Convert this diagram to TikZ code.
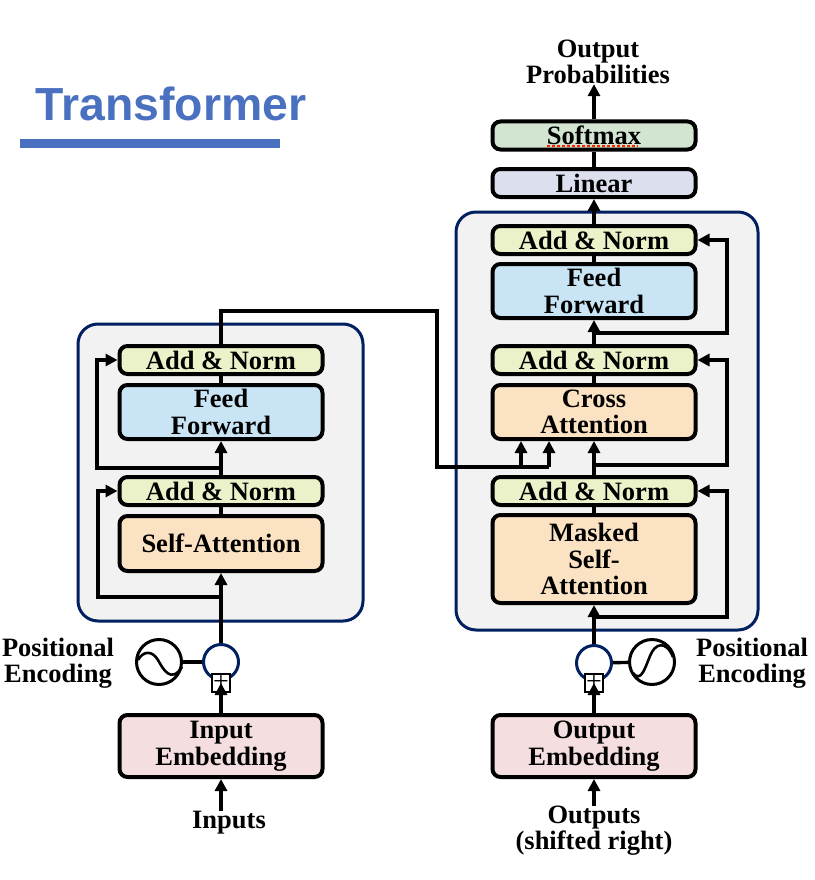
\documentclass[tikz,border=0pt]{standalone}
\usepackage{fontspec}
\setmainfont{Liberation Serif}
\newfontfamily\headfont{Liberation Sans}
\usetikzlibrary{arrows.meta,shapes}
\definecolor{navy}{HTML}{002060}
\definecolor{headblue}{HTML}{4A70C0}
\definecolor{panelgray}{HTML}{F2F2F2}
\definecolor{normgreen}{HTML}{EBF1C8}
\definecolor{ffblue}{HTML}{C9E5F5}
\definecolor{attnorange}{HTML}{FBE2C3}
\definecolor{embedpink}{HTML}{F5DEDF}
\definecolor{softgreen}{HTML}{D2E5D1}
\definecolor{linearblue}{HTML}{DCDFEE}
\tikzstyle{panel}=[draw=navy,line width=3pt,fill=panelgray,rounded corners=20pt]
\tikzstyle{block}=[draw=black,line width=4pt,rounded corners=8pt,minimum width=203pt,inner sep=0pt,align=center,font=\fontsize{26.5}{26.5}\selectfont\bfseries]
\tikzstyle{lbl}=[align=center,inner sep=0pt,font=\fontsize{26.5}{26}\selectfont\bfseries]
\tikzstyle{adder}=[circle,draw=navy,line width=3pt,fill=white,minimum size=35pt,inner sep=0pt]
\tikzstyle{osc}=[circle,draw=black,line width=3pt,fill=white,minimum size=45pt,inner sep=0pt]
\tikzstyle{plusbox}=[draw=black,line width=2pt,fill=white,minimum size=18pt,inner sep=0pt,font=\fontsize{28}{28}\selectfont]
\tikzstyle{edge}=[draw,line width=3.4pt,-]
\tikzstyle{arrow}=[draw,line width=3.4pt,-{Triangle[length=12pt,width=12pt]}]

\begin{document}
\begin{tikzpicture}[x=1pt,y=-1pt]
    \useasboundingbox (0,0) rectangle (814,880);
    % Title and the rule below it
    \node[inner sep=0pt,text=headblue,font=\fontsize{46.4}{47}\selectfont\headfont\bfseries] (title) at (171,104) {Transformer};
    \fill[headblue] (20,139) rectangle (280,148);
    % The two panels
    \draw[panel] (78,324) rectangle (363,621);
    \draw[panel] (456,212) rectangle (758,630);
    % Now the blocks
    \foreach \pos/\name in {{(221,360)/addE2}, {(221,491)/addE1}, {(594,240)/addD3}, {(594,360)/addD2}, {(594,491)/addD1}}
        \node[block,fill=normgreen,minimum height=28pt] (\name) at \pos {Add \& Norm};
    \foreach \pos/\name in {{(221,412)/ffE}, {(594,291)/ffD}}
        \node[block,fill=ffblue,minimum height=54pt] (\name) at \pos {Feed\\Forward};
    \node[block,fill=attnorange,minimum height=55pt] (selfE) at (221,543.5) {Self-Attention};
    \node[block,fill=attnorange,minimum height=54pt] (cross) at (594,412) {Cross\\Attention};
    \node[block,fill=attnorange,minimum height=88pt] (selfD) at (594,559) {Masked\\Self-\\Attention};
    \node[block,fill=embedpink,minimum height=62pt] (embE) at (221,746) {Input\\Embedding};
    \node[block,fill=embedpink,minimum height=62pt] (embD) at (594,746) {Output\\Embedding};
    \node[block,fill=linearblue,minimum height=28pt] (linear) at (594,183) {Linear};
    \node[block,fill=softgreen,minimum height=28pt] (softmax) at (594,135.5) {Softmax};
    \draw[red!75!orange,line width=1.6pt,dash pattern=on 3pt off 2pt] (547,146) -- (638,146);
    % Positional encoding
    \foreach \pos/\name in {{(221,662)/plusE}, {(594,663)/plusD}}
        \node[adder] (\name) at \pos {};
    \foreach \pos/\name in {{(159,662)/oscE}, {(652,662)/oscD}}
        \node[osc] (\name) at \pos {};
    \foreach \pos/\name in {{(221,683)/boxE}, {(594,683)/boxD}}
        \node[plusbox] (\name) at \pos {+};
    \draw[line width=2.6pt] (138,660) .. controls (143,651) and (152,650) .. (158,660) .. controls (163,669) and (171,684) .. (182,667);
    \draw[line width=2.6pt] (633,673) .. controls (641,683) and (645,668) .. (650,656) .. controls (655,643) and (666,640) .. (673,657);
    % Labels
    \node[lbl] (posE) at (58,663) {Positional\\Encoding};
    \node[lbl] (posD) at (752,663) {Positional\\Encoding};
    \node[lbl] (inputs) at (229,823) {Inputs};
    \node[lbl] (outputs) at (594,831) {Outputs\\(shifted right)};
    \node[lbl] (outprob) at (598,62) {Output\\Probabilities};
    % Points where the lines turn or split
    \foreach \x/\y/\name in {221/597/brE1, 98/491/sideE1, 221/468/brE2, 97/360/sideE2,
        221/311/memA, 437/311/memB, 437/467/memC, 521/467/memD, 549/467/memE,
        594/617/brD1, 727/491/sideD1, 594/465/brD2, 727/360/sideD2,
        594/333/brD3, 727/240/sideD3}
        \coordinate (\name) at (\x,\y);
    % Connect blocks with plain edges
    \foreach \source/\dest in {addE1/selfE, addE2/ffE, addD1/selfD, addD2/cross, addD3/ffD, softmax/linear, oscE/plusE, oscD/plusD}
        \path[edge] (\source) -- (\dest);
    % and with arrows
    \foreach \source/\dest in {plusE/selfE, addE1/ffE, plusD/selfD, addD1/cross, addD2/ffD, addD3/linear}
        \path[arrow] (\source) -- (\dest);
    \foreach \name/\dest in {E/boxE, D/boxD}
        \path[arrow] (emb\name) -- (\dest.center);
    \path[arrow] (softmax) -- (softmax |- outprob.south);
    \path[arrow] (embE |- inputs.north) -- (embE);
    \path[arrow] (outputs.north) -- (embD);
    % Residual lines
    \foreach \source/\side/\dest in {brE1/sideE1/addE1, brE2/sideE2/addE2, brD1/sideD1/addD1, brD2/sideD2/addD2, brD3/sideD3/addD3}
        \path[arrow] (\source) -| (\side) -- (\dest);
    % From the encoder over to the cross attention
    \path[edge] (addE2) -- (memA) -- (memB) -- (memC) -- (memE);
    \foreach \source in {memD, memE}
        \path[arrow] (\source) -- (\source |- cross.south);
\end{tikzpicture}
\end{document}
